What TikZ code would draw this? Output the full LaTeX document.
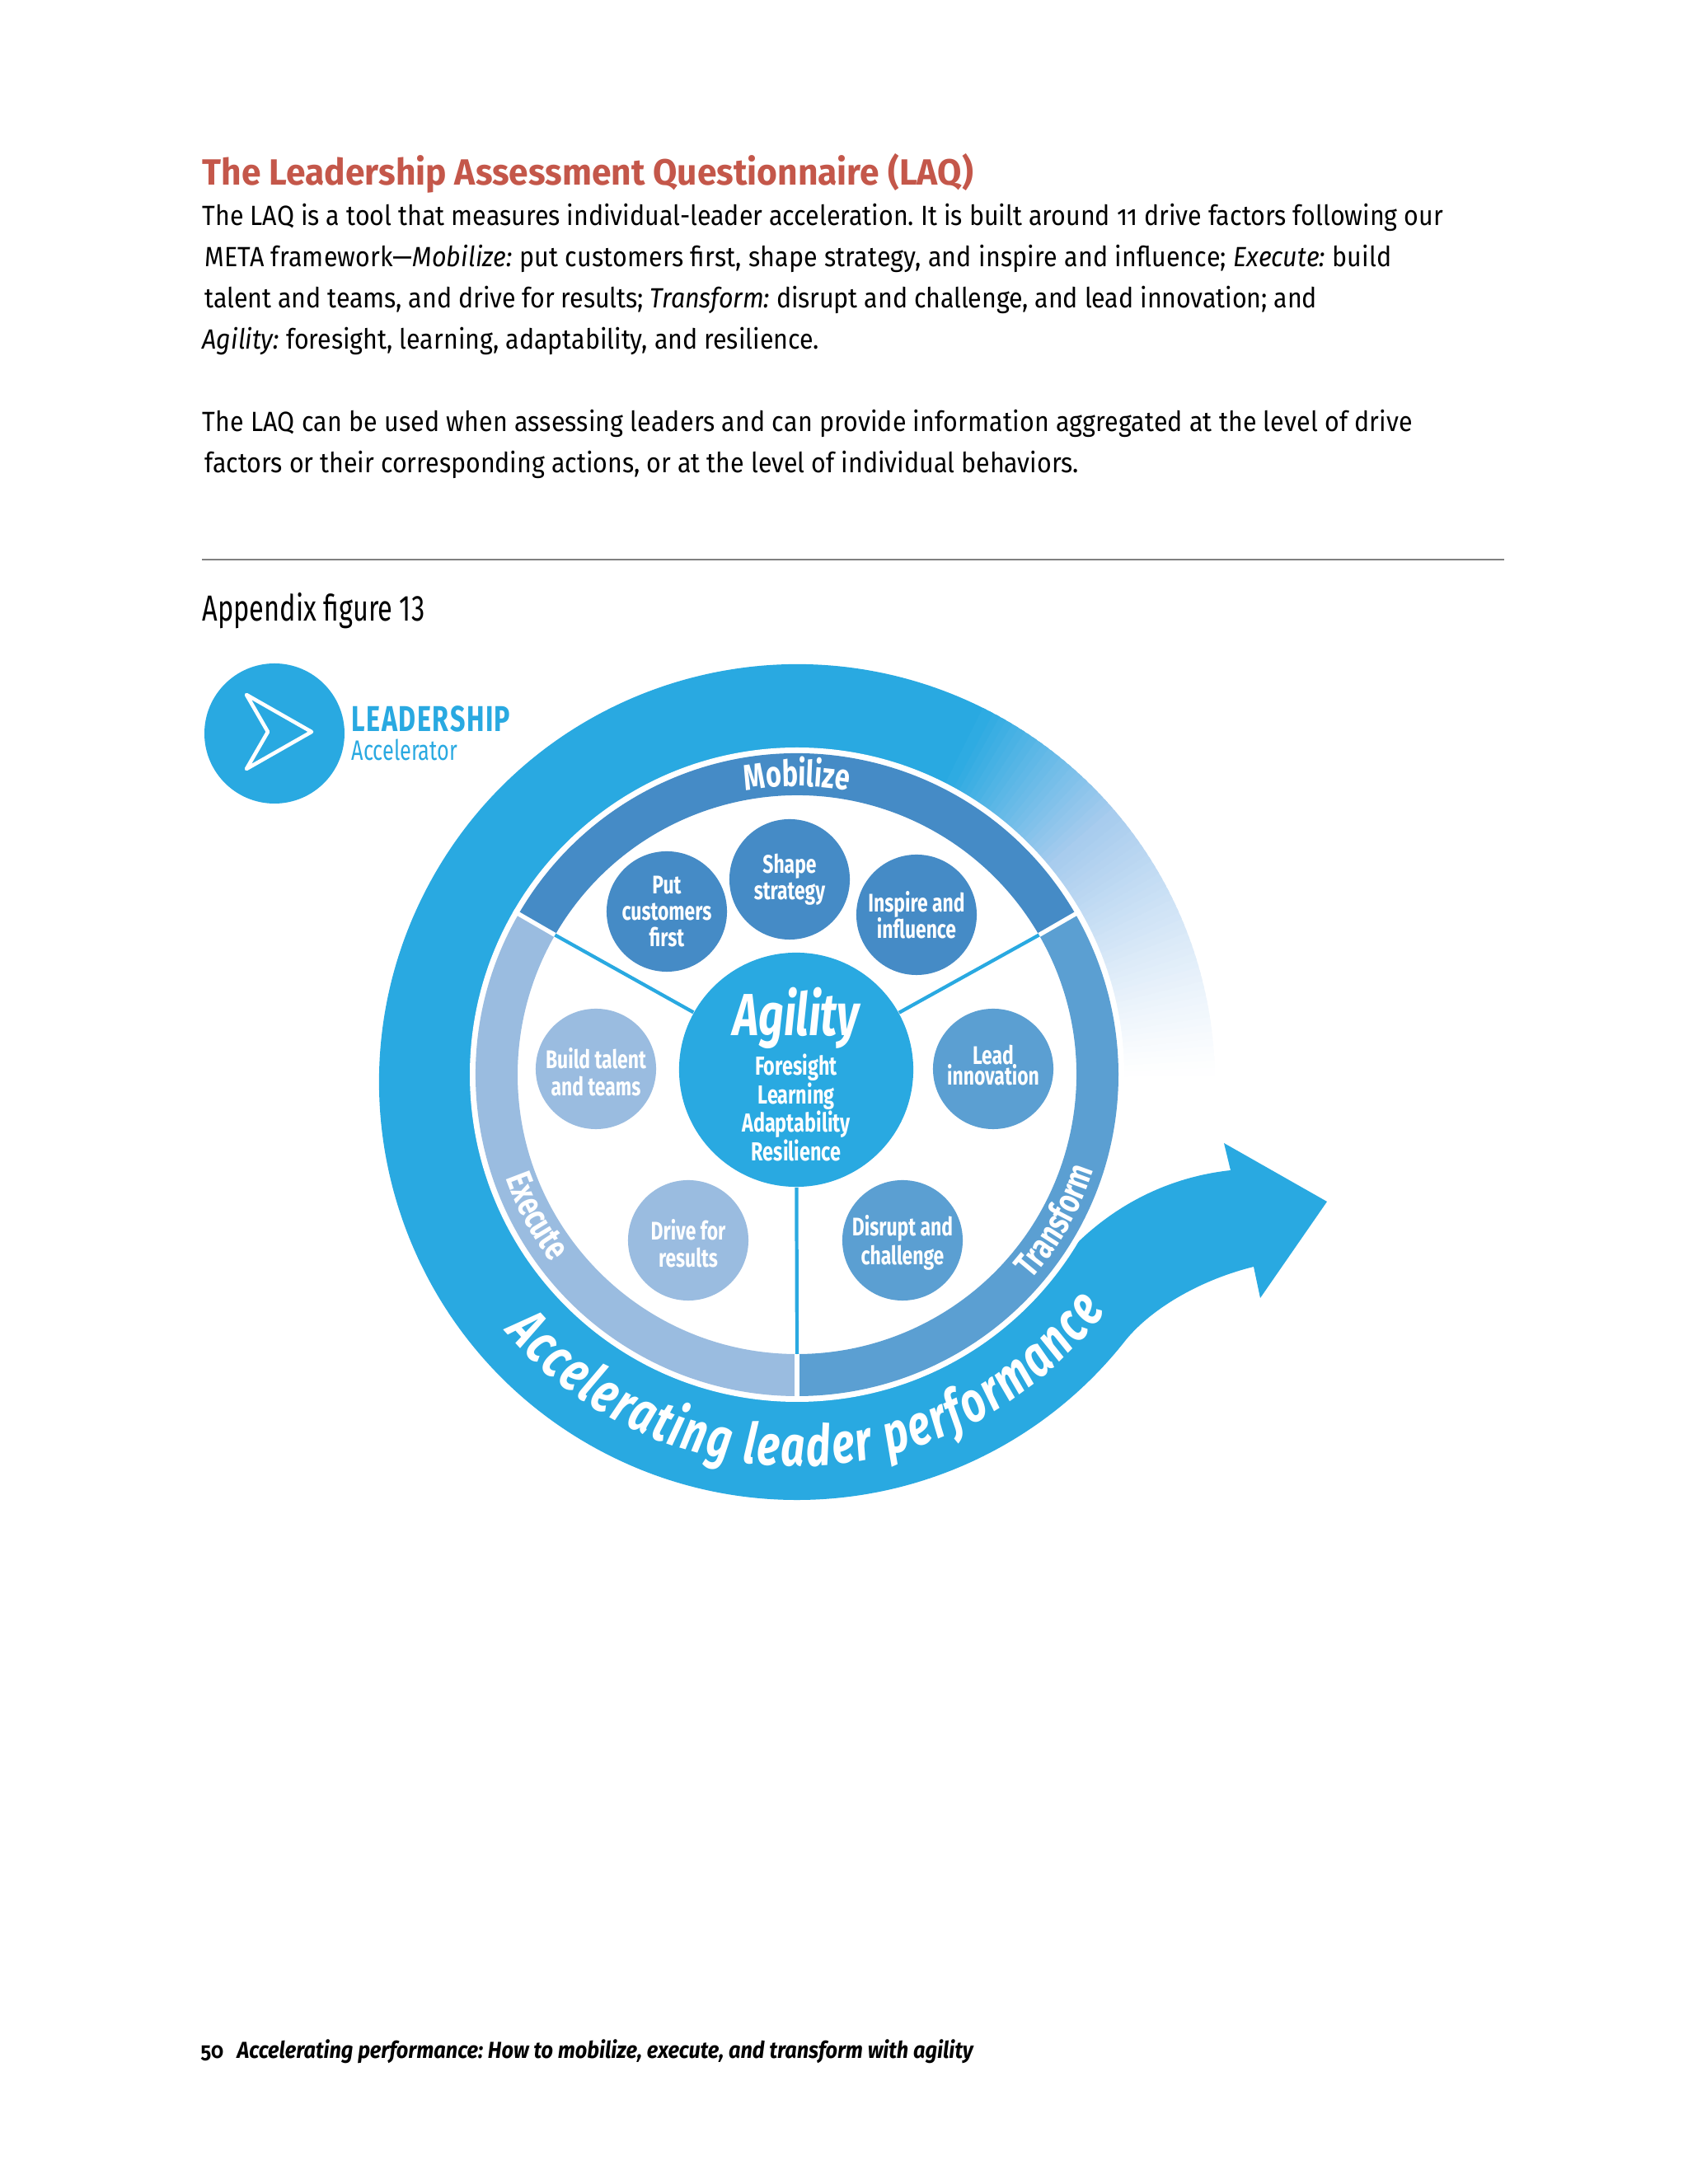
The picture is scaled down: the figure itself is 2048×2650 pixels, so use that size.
\documentclass[tikz,border=0pt]{standalone}
\usepackage{fontspec}
\setmainfont[Numbers=OldStyle,FakeStretch=0.90]{Fira Sans}
\newfontfamily\headfont[FakeStretch=0.96]{Fira Sans}
\newfontfamily\condfont[FakeStretch=0.74]{Fira Sans}
\usepackage{xcolor}
\usepackage{tikz}
\usetikzlibrary{calc,decorations.text}
\definecolor{bandblue}{HTML}{29A9E1}
\definecolor{fadeblue}{HTML}{A8CCEE}
\definecolor{mobblue}{HTML}{458BC6}
\definecolor{tranblue}{HTML}{5B9FD2}
\definecolor{execblue}{HTML}{9ABCE0}
\definecolor{titlered}{HTML}{C4574A}
\newcommand\ringfont{\color{white}\condfont\bfseries\fontsize{12.5}{13}\selectfont}
\newcommand\accfont{\color{white}\condfont\bfseries\itshape\fontsize{19.5}{20}\selectfont}
\newcommand\spreadby[1]{\addfontfeature{LetterSpace=#1}}
\tikzset{
  bodyline/.style={anchor=base west,inner sep=0pt,font=\fontsize{9.6}{11}\selectfont},
  factor/.style={circle,minimum size=1.46cm,inner sep=0pt,align=center,text=white,
    font=\condfont\bfseries\fontsize{8.8}{9.2}\selectfont},
  centretext/.style={inner sep=0pt,align=center,text=white},
  spoke/.style={bandblue,line width=1.2pt},
  divider/.style={white,line width=1.5pt}
}

\begin{document}
\frenchspacing
\begin{tikzpicture}[x=0.01cm,y=0.01cm]
\useasboundingbox (0,0) rectangle (2048,2650);
\fill[white] (0,0) rectangle (2048,2650);
\coordinate (bandc) at (967,1337);
\coordinate (innerc) at (967,1346);
% text above the figure
\node[bodyline,text=titlered,font=\headfont\bfseries\fontsize{12.6}{14}\selectfont] (title) at (245,2425) {The Leadership Assessment Questionnaire (LAQ)};
\node[bodyline] (lineA) at (245,2376) {The LAQ is a tool that measures individual-leader acceleration. It is built around 11 drive factors following our};
\node[bodyline] (lineB) at (248,2326) {\spreadby{0.55}META framework---\textit{Mobilize:} put customers first, shape strategy, and inspire and influence; \textit{Execute:} build};
\node[bodyline] (lineC) at (248,2276) {\spreadby{-0.25}talent and teams, and drive for results; \textit{Transform:} disrupt and challenge, and lead innovation; and};
\node[bodyline] (lineD) at (245,2226) {\textit{Agility:} foresight, learning, adaptability, and resilience.};
\node[bodyline] (lineE) at (245,2126) {\spreadby{0.5}The LAQ can be used when assessing leaders and can provide information aggregated at the level of drive};
\node[bodyline] (lineF) at (248,2076) {factors or their corresponding actions, or at the level of individual behaviors.};
\draw[black!50,line width=0.7pt] (245,1971) -- (1825,1971);
\node[bodyline,font=\condfont\fontsize{12.5}{13}\selectfont] (figname) at (245,1896) {Appendix figure 13};
\node[bodyline,font=\bfseries\fontsize{7.6}{9}\selectfont] (pagenum) at (243,152) {50};
\node[bodyline,font=\bfseries\itshape\fontsize{8}{9}\selectfont] (running) at (287,152) {Accelerating performance: How to mobilize, execute, and transform with agility};
% logo
\fill[bandblue] (333,1760) circle (85);
\draw[white,line width=1.3pt,line join=round] (299,1807) -- (325,1762) -- (299,1717) -- (378,1762) -- cycle;
\node[bodyline,text=bandblue,font=\condfont\bfseries\fontsize{12.4}{13}\selectfont] (logoA) at (426,1762) {\addfontfeature{LetterSpace=3.5}LEADERSHIP};
\node[bodyline,text=bandblue,font=\condfont\fontsize{9.7}{11}\selectfont] (logoB) at (426,1727) {Accelerator};
% outer band and arrow
\fill[bandblue] ($(bandc)+(63:507)$) arc[start angle=63,end angle=322,radius=507]
  .. controls (1400,1065) and (1460,1098) .. (1521,1113) -- (1529,1075) -- (1610,1192) -- (1485,1263) -- (1493,1230)
  .. controls (1420,1222) and (1355,1190) .. (1303,1138) -- ($(bandc)+(330:350)$)
  arc[start angle=330,end angle=63,radius=350] -- cycle;
\foreach \ang in {0,...,62}{
  \pgfmathsetmacro\fadeq{max(0,min(100,(\ang-40)/23*100))}
  \pgfmathsetmacro\fader{min(100,100*pow((\ang+0.5)/40,1.3))}
  \fill[bandblue!\fadeq!fadeblue!\fader!white] ($(bandc)+(\ang:350)$) -- ($(bandc)+(\ang:507)$)
    arc[start angle=\ang,end angle=\ang+1.6,radius=507] -- ($(bandc)+(\ang+1.6:350)$) -- cycle;
}
% ring
\fill[white] (innerc) circle (397);
\foreach \sa/\ea/\col in {30/150/mobblue,-90/30/tranblue,150/270/execblue}{
  \fill[\col] ($(innerc)+(\sa:390)$) arc[start angle=\sa,end angle=\ea,radius=390]
    -- ($(innerc)+(\ea:339)$) arc[start angle=\ea,end angle=\sa,radius=339] -- cycle;
}
\coordinate (rimT) at ($(innerc)+(30:339)$);
\coordinate (rimM) at ($(innerc)+(150:339)$);
\coordinate (rimE) at ($(innerc)+(270:339)$);
\coordinate (edgeT) at ($(innerc)+(30:397)$);
\coordinate (edgeM) at ($(innerc)+(150:397)$);
\coordinate (edgeE) at ($(innerc)+(270:397)$);
\draw[divider] (rimT) -- (edgeT);
\draw[divider] (rimM) -- (edgeM);
\draw[divider] (rimE) -- (edgeE);
% centre
\node[circle,fill=bandblue,minimum size=2.84cm,inner sep=0pt] (agility) at (966,1352) {};
\node[centretext,anchor=base,font=\condfont\bfseries\itshape\fontsize{20.5}{22}\selectfont] (agilityname) at (966,1393) {Agility};
\node[centretext,font=\condfont\bfseries\fontsize{9}{9.85}\selectfont] (agilitylist) at (966,1306) {Foresight\\Learning\\Adaptability\\Resilience};
\draw[spoke] (agility) -- (rimT);
\draw[spoke] (agility) -- (rimM);
\draw[spoke] (agility) -- (rimE);
% drive factors
\node[factor,fill=mobblue] (putcust) at (809,1544) {Put\\customers\\first};
\node[factor,fill=mobblue] (shape) at (958,1583) {Shape\\strategy};
\node[factor,fill=mobblue] (inspire) at (1112,1540) {Inspire and\\influence};
\node[factor,fill=execblue] (talent) at (723,1353) {\rule{0pt}{9.3pt}Build talent\\and teams};
\node[factor,fill=execblue] (results) at (835,1145) {\rule{0pt}{9.3pt}Drive for\\results};
\node[factor,fill=tranblue] (innov) at (1205,1353) {Lead\\[-2pt]innovation\rule[-2.8pt]{0pt}{0pt}};
\node[factor,fill=tranblue] (disrupt) at (1095,1145) {\rule{0pt}{8.8pt}Disrupt and\\[1pt]challenge};
% curved labels
\path[decorate,decoration={text along path,text align=center,text={|\ringfont|Mobilize}}]
  ($(innerc)+(130:350)$) arc[start angle=130,end angle=50,radius=350];
\path[decorate,decoration={text along path,text align=center,text={|\ringfont|Execute}}]
  ($(innerc)+(178:375)$) arc[start angle=178,end angle=239,radius=375];
\path[decorate,decoration={text along path,text align=center,text={|\ringfont|Transform}}]
  ($(innerc)+(-60:378)$) arc[start angle=-60,end angle=1,radius=378];
\path[decorate,decoration={text along path,text align=fit to path,text={|\accfont|Accelerating leader performance}}]
  ($(bandc)+(220.5:466)$) arc[start angle=220.5,end angle=323.5,radius=466];
\end{tikzpicture}
\end{document}
